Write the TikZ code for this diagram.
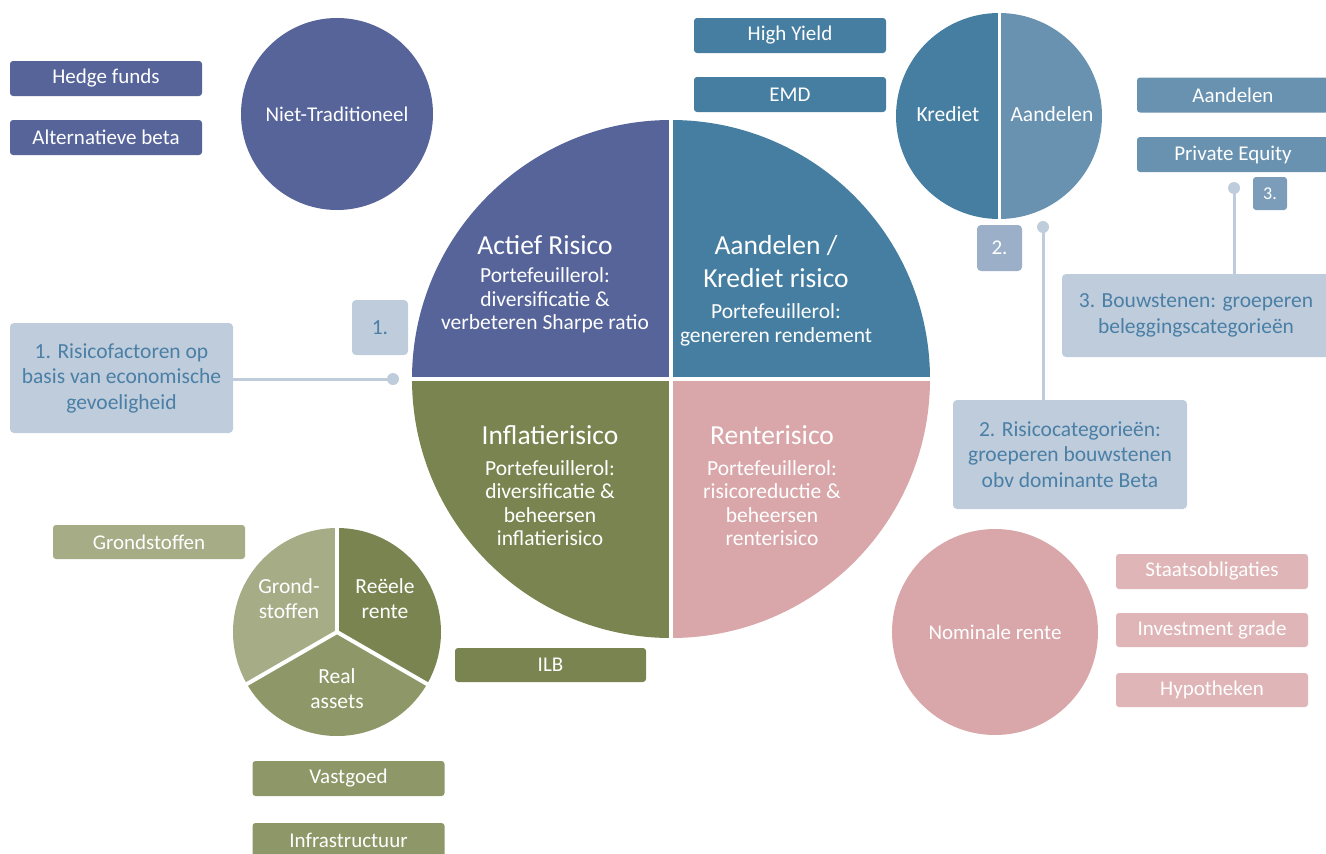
\documentclass[tikz,border=0pt]{standalone}
\usepackage{fontspec}
\setmainfont{Carlito}
\definecolor{cPurple}{HTML}{56649A}
\definecolor{cSteel}{HTML}{457EA1}
\definecolor{cSteelL}{HTML}{6892B0}
\definecolor{cOliveD}{HTML}{7A8450}
\definecolor{cOliveM}{HTML}{8E9767}
\definecolor{cOliveL}{HTML}{A5AC86}
\definecolor{cPink}{HTML}{D9A7AA}
\definecolor{cPinkL}{HTML}{DFB5B7}
\definecolor{cCall}{HTML}{BFCCDB}
\definecolor{cCallTxt}{HTML}{4A7FA6}
\definecolor{cTwo}{HTML}{9BB0C8}
\definecolor{cThree}{HTML}{7C9DBA}
\tikzset{
  box/.style={rounded corners=3pt, text=white, inner sep=0pt,
    minimum width=192pt, minimum height=35pt,
    font=\fontsize{21}{24}\selectfont},
  callout/.style={rounded corners=4pt, fill=cCall, text=cCallTxt, inner sep=0pt,
    align=center, font=\fontsize{21.5}{25.5}\selectfont},
  disc/.style={circle, inner sep=0pt, text=white, font=\fontsize{21}{24}\selectfont},
  qtitle/.style={text=white, align=center, inner sep=0pt, font=\fontsize{27.5}{33}\selectfont},
  qsub/.style={text=white, align=center, inner sep=0pt, font=\fontsize{21.5}{23.3}\selectfont},
  pietxt/.style={text=white, align=center, inner sep=0pt, font=\fontsize{21.5}{25}\selectfont},
  gap/.style={draw=white, line width=4pt},
  link/.style={draw=cCall, line width=3pt},
  dot/.style={circle, fill=cCall, inner sep=0pt, minimum size=12pt},
}
\begin{document}
\begin{tikzpicture}[x=1pt,y=1pt]
\useasboundingbox (0,0) rectangle (1326,-854);

% central risk-factor circle in four quadrants
\coordinate (C) at (671,-379);
\fill[cPurple] (C) -- ++(180:259) arc[start angle=180, end angle=90, radius=259] -- cycle;
\fill[cSteel]  (C) -- ++(90:259) arc[start angle=90, end angle=0, radius=259] -- cycle;
\fill[cOliveD] (C) -- ++(180:259) arc[start angle=180, end angle=270, radius=259] -- cycle;
\fill[cPink]   (C) -- ++(270:259) arc[start angle=270, end angle=360, radius=259] -- cycle;
\draw[gap] (C) ++(0,262) -- ++(0,-524);
\draw[gap] (C) ++(-262,0) -- ++(524,0);

\node[qtitle] (tAct) at (545,-245) {Actief Risico};
\node[qsub] (sAct) at (545,-300.5) {Portefeuillerol:\\diversificatie \&\\verbeteren Sharpe ratio};
\node[qtitle] (tAand) at (776,-261.5) {Aandelen /\\Krediet risico};
\node[qsub] (sAand) at (776,-325) {Portefeuillerol:\\genereren rendement};
\node[qtitle] (tInfl) at (550,-435) {Inflatierisico};
\node[qsub] (sInfl) at (550,-503) {Portefeuillerol:\\diversificatie \&\\beheersen\\inflatierisico};
\node[qtitle] (tRent) at (772,-435) {Renterisico};
\node[qsub] (sRent) at (772,-503) {Portefeuillerol:\\risicoreductie \&\\beheersen\\renterisico};

% active risk: non-traditional
\node[disc, fill=cPurple, minimum size=192pt] (niet) at (337,-114) {Niet-Traditioneel};
\node[box, fill=cPurple] (hedge) at (106,-78.5) {Hedge funds};
\node[box, fill=cPurple] (altbeta) at (106,-137.5) {Alternatieve beta};

% equity / credit
\node[box, fill=cSteel] (hy) at (790,-35.5) {High Yield};
\node[box, fill=cSteel] (emd) at (790,-94.5) {EMD};
\coordinate (K) at (999,-116);
\fill[cSteel]  (K) -- ++(90:103) arc[start angle=90, end angle=270, radius=103] -- cycle;
\fill[cSteelL] (K) -- ++(270:103) arc[start angle=270, end angle=450, radius=103] -- cycle;
\draw[draw=white, line width=3pt] (K) ++(0,105) -- ++(0,-210);
\node[pietxt] (kred) at (948,-114) {Krediet};
\node[pietxt] (aand) at (1052,-114) {Aandelen};
\node[box, fill=cSteelL] (aandbox) at (1233,-95) {Aandelen};
\node[box, fill=cSteelL] (pe) at (1233,-154.5) {Private Equity};

% inflation: real assets pie
\coordinate (G) at (337,-632);
\fill[cOliveD] (G) -- ++(90:104) arc[start angle=90, end angle=-30, radius=104] -- cycle;
\fill[cOliveL] (G) -- ++(90:104) arc[start angle=90, end angle=210, radius=104] -- cycle;
\fill[cOliveM] (G) -- ++(210:104) arc[start angle=210, end angle=330, radius=104] -- cycle;
\draw[gap] (G) -- ++(90:106);
\draw[gap] (G) -- ++(210:106);
\draw[gap] (G) -- ++(330:106);
\node[pietxt] (grond) at (289,-599) {Grond-\\stoffen};
\node[pietxt] (reeel) at (385,-599) {Reëele\\rente};
\node[pietxt] (real) at (337,-689) {Real\\assets};
\node[box, fill=cOliveL, minimum height=34pt] (grondbox) at (149,-542) {Grondstoffen};
\node[box, fill=cOliveD, minimum width=191pt, minimum height=34pt] (ilb) at (550.5,-665) {ILB};
\node[box, fill=cOliveM] (vast) at (348.5,-778.5) {Vastgoed};
\node[box, fill=cOliveM] (infra) at (348.5,-840.5) {Infrastructuur};

% interest rate: nominal
\node[disc, fill=cPink, minimum size=206pt] (nom) at (995,-632) {Nominale rente};
\node[box, fill=cPinkL] (staat) at (1212,-571.5) {Staatsobligaties};
\node[box, fill=cPinkL, minimum height=34pt] (ig) at (1212,-630) {Investment grade};
\node[box, fill=cPinkL, minimum height=34pt] (hypo) at (1212,-690) {Hypotheken};

% numbered markers
\node[callout, minimum width=56pt, minimum height=55pt] (m1) at (380,-327.5) {1.};
\node[box, fill=cTwo, rounded corners=4pt, minimum width=45pt, minimum height=46pt] (m2) at (999.5,-248) {2.};
\node[box, fill=cThree, rounded corners=3pt, minimum width=34pt, minimum height=33pt, font=\fontsize{18}{20}\selectfont] (m3) at (1270,-193.5) {3.};

% explanatory callouts
\node[callout, minimum width=223pt, minimum height=110pt] (c1) at (121.5,-378) {1. Risicofactoren op\\basis van economische\\gevoeligheid};
\node[callout, minimum width=234pt, minimum height=109pt] (c2) at (1070,-454.5) {2. Risicocategorieën:\\groeperen bouwstenen\\obv dominante Beta};
\node[callout, minimum width=268pt, minimum height=83pt] (c3) at (1196,-315.5) {3. Bouwstenen: groeperen\\beleggingscategorieën};

% leader lines with end dots
\node[dot] (d1) at (393,-379) {};
\node[dot] (d2) at (1043,-227) {};
\node[dot] (d3) at (1234,-188) {};
\draw[link] (c1.east |- d1) -- (d1.center);
\draw[link] (d2.center) -- (d2 |- c2.north);
\draw[link] (d3.center) -- (d3 |- c3.north);
\end{tikzpicture}
\end{document}
